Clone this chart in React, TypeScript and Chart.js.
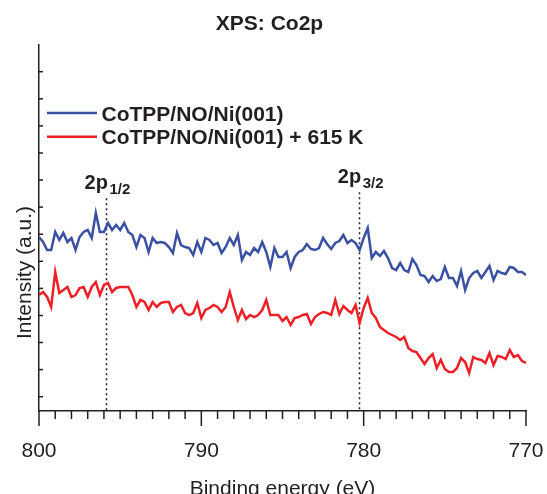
import React, { useEffect, useRef } from "react";
import { Chart, registerables } from "chart.js";

Chart.register(...registerables);

// Binding energy grid (eV)
const ENERGY = [
  800, 799.75, 799.5, 799.25, 799, 798.75, 798.5, 798.25, 798, 797.75, 797.5, 797.25, 797, 796.75, 796.5, 796.25,
  796, 795.75, 795.5, 795.25, 795, 794.75, 794.5, 794.25, 794, 793.75, 793.5, 793.25, 793, 792.75, 792.5, 792.25,
  792, 791.75, 791.5, 791.25, 791, 790.75, 790.5, 790.25, 790, 789.75, 789.5, 789.25, 789, 788.75, 788.5, 788.25,
  788, 787.75, 787.5, 787.25, 787, 786.75, 786.5, 786.25, 786, 785.75, 785.5, 785.25, 785, 784.75, 784.5, 784.25,
  784, 783.75, 783.5, 783.25, 783, 782.75, 782.5, 782.25, 782, 781.75, 781.5, 781.25, 781, 780.75, 780.5, 780.25,
  780, 779.75, 779.5, 779.25, 779, 778.75, 778.5, 778.25, 778, 777.75, 777.5, 777.25, 777, 776.75, 776.5, 776.25,
  776, 775.75, 775.5, 775.25, 775, 774.75, 774.5, 774.25, 774, 773.75, 773.5, 773.25, 773, 772.75, 772.5, 772.25,
  772, 771.75, 771.5, 771.25, 771, 770.75, 770.5, 770.25, 770,
];

// CoTPP/NO/Ni(001)
const INTENSITY_AS_DEPOSITED = [
  175, 170, 162, 162, 180, 172, 179, 170, 174, 162, 175, 180, 182, 174, 199, 180, 180, 189, 182, 187,
  182, 189, 180, 177, 165, 177, 174, 160, 174, 169, 170, 169, 165, 159, 179, 167, 165, 164, 157, 170,
  160, 174, 172, 167, 169, 159, 165, 174, 167, 177, 152, 160, 157, 164, 160, 170, 160, 145, 164, 155,
  155, 160, 144, 155, 160, 162, 168, 163, 162, 164, 174, 168, 163, 169, 171, 177, 169, 172, 169, 162,
  174, 184, 154, 160, 156, 161, 154, 144, 142, 149, 142, 140, 153, 147, 137, 136, 130, 136, 131, 133,
  145, 134, 134, 126, 141, 122, 134, 139, 141, 134, 140, 146, 132, 141, 139, 138, 145, 144, 140, 140, 137,
];

// CoTPP/NO/Ni(001) + 615 K
const INTENSITY_ANNEALED = [
  117, 120, 115, 105, 140, 119, 122, 125, 115, 117, 124, 125, 115, 125, 130, 117, 127, 129, 120, 124,
  125, 125, 125, 117, 105, 112, 110, 102, 110, 105, 109, 110, 110, 100, 105, 107, 99, 97, 99, 109,
  94, 102, 104, 107, 105, 100, 105, 120, 105, 92, 102, 93, 97, 95, 97, 102, 112, 97, 97, 97,
  91, 95, 87, 94, 95, 97, 98, 88, 95, 98, 100, 99, 97, 112, 98, 106, 102, 99, 107, 89,
  104, 114, 99, 94, 85, 82, 79, 77, 75, 72, 75, 64, 61, 60, 54, 48, 54, 58, 44, 52,
  43, 40, 40, 44, 54, 50, 39, 55, 53, 52, 49, 59, 47, 56, 55, 53, 62, 55, 57, 51, 49,
];

const SERIES_LABELS = ["CoTPP/NO/Ni(001)", "CoTPP/NO/Ni(001) + 615 K"];
const SERIES_COLORS = ["#3a51a3", "#ec2127"];

const X_TICKS = [800, 790, 780, 770];
const Y_TICKS = [15.3, 42.4, 69.5, 96.5, 123.6, 150.7, 177.8, 204.9, 232, 259, 286.1, 313.2, 340.3];

const PEAK_ENERGIES = [795.9, 780.3];
const PEAK_MAIN = ["2p", "2p"];
const PEAK_SUB = ["1/2", "3/2"];

const TITLE = "XPS: Co2p";
const X_TITLE = "Binding energy (eV)";
const Y_TITLE = "Intensity (a.u.)";

const FONT = "'Liberation Sans', Arial, Helvetica, sans-serif";
const INK = "#231f20";
const PEAK_BASELINES = [189.3, 183.3];

const overlayPlugin = {
  id: "overlay",
  beforeDatasetsDraw(chart: any) {
    const { ctx, chartArea, scales } = chart;
    const x = scales.x;
    ctx.save();
    ctx.strokeStyle = INK;
    ctx.lineWidth = 1.5;
    ctx.setLineDash([2, 3]);
    PEAK_ENERGIES.forEach((e, i) => {
      const px = Math.round(x.getPixelForValue(e)) + 0.5;
      ctx.beginPath();
      ctx.moveTo(px, PEAK_BASELINES[i] + 9);
      ctx.lineTo(px, chartArea.bottom);
      ctx.stroke();
    });
    ctx.restore();
  },
  afterDraw(chart: any) {
    const { ctx, chartArea, scales } = chart;
    const x = scales.x;
    const y = scales.y;
    ctx.save();
    ctx.setLineDash([]);
    ctx.strokeStyle = INK;
    ctx.lineWidth = 1.5;
    // x ticks (major every 10 eV, minor every 1 eV), pointing outward
    for (let e = 770; e <= 800; e += 1) {
      const px = x.getPixelForValue(e);
      const len = e % 10 === 0 ? 15 : 8;
      ctx.beginPath();
      ctx.moveTo(px, chartArea.bottom);
      ctx.lineTo(px, chartArea.bottom + len);
      ctx.stroke();
    }
    // y ticks, pointing inward
    Y_TICKS.forEach((v) => {
      const py = y.getPixelForValue(v);
      ctx.beginPath();
      ctx.moveTo(chartArea.left, py);
      ctx.lineTo(chartArea.left + 4, py);
      ctx.stroke();
    });

    ctx.fillStyle = INK;
    // title
    ctx.font = `bold 21px ${FONT}`;
    ctx.textAlign = "center";
    ctx.textBaseline = "alphabetic";
    ctx.fillText(TITLE, 269.5, 29.5);

    // legend
    chart.data.datasets.forEach((ds: any, i: number) => {
      const cy = 113 + i * 23.7;
      ctx.strokeStyle = ds.borderColor;
      ctx.lineWidth = 2.5;
      ctx.beginPath();
      ctx.moveTo(47, cy);
      ctx.lineTo(97, cy);
      ctx.stroke();
      ctx.fillStyle = INK;
      ctx.textAlign = "left";
      ctx.font = `bold 21px ${FONT}`;
      ctx.fillText(ds.label, 101.5, cy + 7.5);
    });

    // peak labels
    PEAK_ENERGIES.forEach((e, i) => {
      const px = x.getPixelForValue(e);
      const x0 = px - 21;
      ctx.textAlign = "left";
      ctx.font = `bold 20px ${FONT}`;
      ctx.fillText(PEAK_MAIN[i], x0, PEAK_BASELINES[i]);
      const w = ctx.measureText(PEAK_MAIN[i]).width;
      ctx.font = `bold 15px ${FONT}`;
      ctx.fillText(PEAK_SUB[i], x0 + w + 1.5, PEAK_BASELINES[i] + 4.5);
    });

    // axis titles
    ctx.font = `21px ${FONT}`;
    ctx.textAlign = "center";
    ctx.fillText(X_TITLE, (chartArea.left + chartArea.right) / 2, 495);
    ctx.translate(30.5, 272.5);
    ctx.rotate(-Math.PI / 2);
    ctx.fillText(Y_TITLE, 0, 0);
    ctx.restore();
  },
};

export default function App() {
  const ref = useRef<HTMLCanvasElement | null>(null);

  useEffect(() => {
    document.body.style.margin = "0";
    const canvas = ref.current;
    if (!canvas) return;
    const seriesValues = [INTENSITY_AS_DEPOSITED, INTENSITY_ANNEALED];
    const chart = new Chart(canvas, {
      type: "line",
      data: {
        datasets: seriesValues.map((vals, i) => ({
          label: SERIES_LABELS[i],
          data: ENERGY.map((e, j) => ({ x: e, y: vals[j] })),
          borderColor: SERIES_COLORS[i],
          backgroundColor: SERIES_COLORS[i],
          borderWidth: 2.5,
          pointRadius: 0,
          tension: 0,
          fill: false,
        })),
      },
      options: {
        responsive: false,
        devicePixelRatio: 1,
        animation: false,
        events: [],
        layout: { padding: { top: 45, right: 21, left: 0, bottom: 0 } },
        plugins: { legend: { display: false }, title: { display: false }, tooltip: { enabled: false } },
        scales: {
          x: {
            type: "linear",
            min: 770,
            max: 800,
            reverse: true,
            grid: { display: false },
            border: { display: true, color: INK, width: 1.5 },
            afterBuildTicks: (scale: any) => {
              scale.ticks = X_TICKS.map((v) => ({ value: v }));
            },
            afterFit: (scale: any) => {
              scale.height = 83;
              scale.paddingLeft = 0;
              scale.paddingRight = 0;
            },
            ticks: {
              color: INK,
              font: { family: FONT, size: 21 },
              padding: 20,
              maxRotation: 0,
              autoSkip: false,
              callback: (v: any) => String(v),
            },
          },
          y: {
            type: "linear",
            min: 1,
            max: 367,
            grid: { display: false },
            border: { display: true, color: INK, width: 1.5 },
            afterBuildTicks: (scale: any) => {
              scale.ticks = Y_TICKS.map((v) => ({ value: v }));
            },
            afterFit: (scale: any) => {
              scale.width = 39;
              scale.paddingTop = 0;
              scale.paddingBottom = 0;
            },
            ticks: { display: false },
          },
        },
      },
      plugins: [overlayPlugin],
    });
    return () => chart.destroy();
  }, []);

  return <canvas ref={ref} width={547} height={494} style={{ display: "block" }} />;
}
